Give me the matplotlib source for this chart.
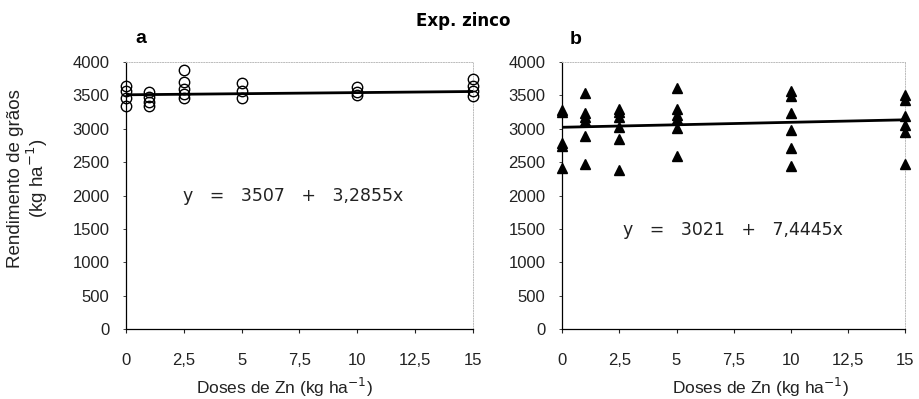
import matplotlib.pyplot as plt
import numpy as np

plt.rcParams['font.family'] = ['Liberation Sans', 'DejaVu Sans']

doses_ticks = [0, 2.5, 5, 7.5, 10, 12.5, 15]
doses_labels = ["0", "2,5", "5", "7,5", "10", "12,5", "15"]
y_ticks = [0, 500, 1000, 1500, 2000, 2500, 3000, 3500, 4000]

# panel a - grain yield per zinc dose (kg/ha)
dose_a = [0, 0, 0, 0,
          1, 1, 1, 1,
          2.5, 2.5, 2.5, 2.5, 2.5,
          5, 5, 5,
          10, 10, 10,
          15, 15, 15, 15]
yield_a = [3640, 3570, 3465, 3340,
           3555, 3470, 3395, 3335,
           3875, 3700, 3600, 3525, 3460,
           3685, 3570, 3460,
           3625, 3550, 3500,
           3740, 3640, 3565, 3490]
coef_a = (3507, 3.2855)

# panel b
dose_b = [0, 0, 0, 0, 0,
          1, 1, 1, 1, 1, 1,
          2.5, 2.5, 2.5, 2.5, 2.5, 2.5,
          5, 5, 5, 5, 5, 5,
          10, 10, 10, 10, 10, 10,
          15, 15, 15, 15, 15, 15]
yield_b = [3285, 3250, 2785, 2740, 2410,
           3540, 3240, 3175, 3115, 2890, 2475,
           3300, 3250, 3175, 3025, 2850, 2375,
           3610, 3290, 3210, 3140, 3010, 2590,
           3560, 3485, 3235, 2985, 2710, 2435,
           3510, 3430, 3190, 3060, 2950, 2470]
coef_b = (3021, 7.4445)

fig = plt.figure(figsize=(9.2, 3.99), dpi=100)
ax_a = fig.add_axes([0.137, 0.175, 0.377, 0.670])
ax_b = fig.add_axes([0.611, 0.175, 0.373, 0.670])


def style(ax, xlab_pos):
    ax.set_xlim(0, 15)
    ax.set_ylim(0, 4000)
    ax.set_xticks(doses_ticks)
    ax.set_xticklabels(doses_labels)
    ax.set_yticks(y_ticks)
    ax.tick_params(axis='x', length=3, width=0.8, pad=14, labelsize=12, colors='#222222')
    ax.tick_params(axis='y', length=2, width=0.6, pad=10, labelsize=12, colors='#222222')
    for side in ['left', 'bottom']:
        ax.spines[side].set_linewidth(0.9)
    for side in ['top', 'right']:
        ax.spines[side].set_color('#bbbbbb')
        ax.spines[side].set_linestyle(':')
        ax.spines[side].set_linewidth(0.7)
    ax.set_xlabel("Doses de Zn (kg ha$^{-1}$)", fontsize=12.5, color='#222222')
    ax.xaxis.set_label_coords(xlab_pos, -0.175)


xs = np.array([0, 15])
eq_font = dict(fontsize=12.5, family='DejaVu Sans', va='center', color='#222222')

style(ax_a, 0.458)
ax_a.plot(xs, coef_a[0] + coef_a[1] * xs, color='black', lw=2, zorder=2)
ax_a.plot(dose_a, yield_a, 'o', mfc='none', mec='black', mew=1.0, ms=7.5,
          clip_on=False, zorder=3)
ax_a.text(2.46, 2000, "y   =   3507   +   3,2855x", **eq_font)
ax_a.text(0.65, 4345, "a", fontsize=14, fontweight='bold', va='center', ha='center')
ax_a.set_ylabel("Rendimento de grãos\n(kg ha$^{-1}$)", fontsize=13.5,
                color='#222222', linespacing=1.0)
ax_a.yaxis.set_label_coords(-0.22, 0.565)

style(ax_b, 0.577)
ax_b.plot(xs, coef_b[0] + coef_b[1] * xs, color='black', lw=2, zorder=2)
ax_b.plot(dose_b, yield_b, '^', color='black', ms=6.5, clip_on=False, zorder=3)
ax_b.text(2.67, 1483, "y   =   3021   +   7,4445x", **eq_font)
ax_b.text(0.61, 4330, "b", fontsize=14, fontweight='bold', va='center', ha='center')

fig.text(0.503, 0.947, "Exp. zinco", fontsize=12, family='DejaVu Sans',
         fontweight='bold', ha='center', va='center')

fig.savefig("out.png", dpi=100)
